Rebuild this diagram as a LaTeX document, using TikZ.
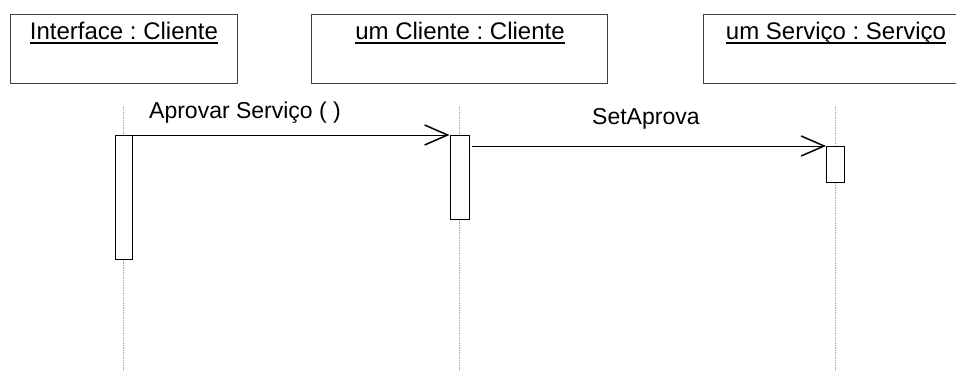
\documentclass[tikz,border=0pt]{standalone}
\usepackage{fontspec}
\setmainfont{Liberation Sans}
\usetikzlibrary{arrows.meta}
\frenchspacing
\begin{document}
\begin{tikzpicture}[x=1pt,y=-1pt,
  objbox/.style={draw=black!75, line width=1pt, fill=white, minimum height=69pt, inner sep=0pt},
  objlabel/.style={font=\fontsize{24pt}{26pt}\selectfont, anchor=base, inner sep=0pt},
  uline/.style={draw=black, line width=1.6pt},
  msglabel/.style={font=\fontsize{23pt}{25pt}\selectfont, anchor=base west, inner sep=0pt},
  lifeline/.style={draw=black!35, line width=1pt, dash pattern=on 1.5pt off 1pt},
  actbox/.style={draw=black, line width=1pt, fill=white, inner sep=0pt},
  msg/.style={draw=black, line width=1pt, -{Straight Barb[length=23pt, width=20pt, line width=1.5pt]}}]
\useasboundingbox (0,0) rectangle (956,372);
\begin{scope}
\clip (0,0) rectangle (956,372);
% object boxes
\node[objbox, minimum width=227pt, anchor=north west] (o1) at (10,14) {};
\node[objbox, minimum width=296pt, anchor=north west] (o2) at (311,14) {};
\node[objbox, minimum width=266pt, anchor=north west] (o3) at (703,14) {};
\end{scope}
% object names, underlined
\node[objlabel] (t1) at (124,39.5) {Interface : Cliente};
\node[objlabel] (t2) at (460,39.5) {um Cliente : Cliente};
\node[objlabel] (t3) at (836,39.5) {um Serviço : Serviço};
\foreach \t in {t1,t2,t3}
  \draw[uline] ([yshift=-3.2pt]\t.base west) -- ([yshift=-3.2pt]\t.base east);
% lifelines
\coordinate (l1top) at (123.5,107);
\coordinate (l1bot) at (123.5,372);
\coordinate (l2top) at (459,107);
\coordinate (l2bot) at (459,372);
\coordinate (l3top) at (835,107);
\coordinate (l3bot) at (835,372);
\draw[lifeline] (l1top) -- (l1bot);
\draw[lifeline] (l2top) -- (l2bot);
\draw[lifeline] (l3top) -- (l3bot);
% activation bars
\node[actbox, minimum width=17pt, minimum height=124pt, anchor=north west] (a1) at (115,135) {};
\node[actbox, minimum width=19pt, minimum height=84pt, anchor=north west] (a2) at (449.5,135) {};
\node[actbox, minimum width=18pt, minimum height=36pt, anchor=north west] (a3) at (826,146) {};
% messages
\draw[msg] (a1.north east) -- (a2.north west);
\coordinate (m2start) at ([xshift=2pt]a2.east |- a3.north);
\draw[msg] (m2start) -- (a3.north west);
\node[msglabel] (ml1) at (149,118) {Aprovar Serviço ( )};
\node[msglabel] (ml2) at (592,124) {SetAprova};
\end{tikzpicture}
\end{document}
